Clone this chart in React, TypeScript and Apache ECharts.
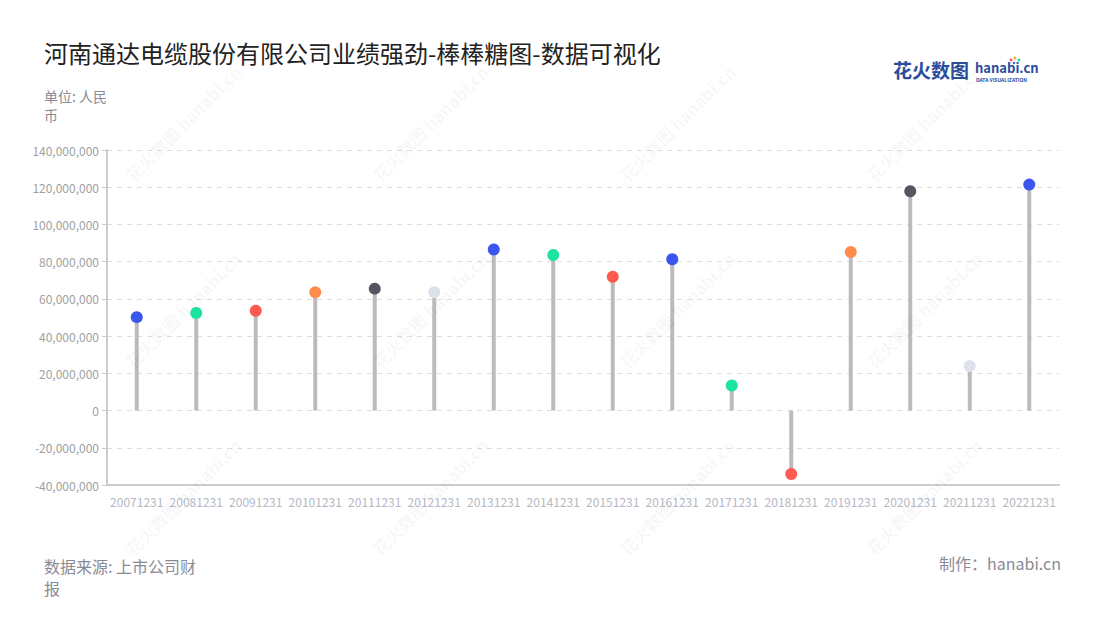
import React, { useEffect, useRef } from "react";
import * as echarts from "echarts";

const categories = [
  "20071231", "20081231", "20091231", "20101231", "20111231", "20121231",
  "20131231", "20141231", "20151231", "20161231", "20171231", "20181231",
  "20191231", "20201231", "20211231", "20221231",
];
const values = [
  50200000, 52400000, 53600000, 63500000, 65500000, 63500000,
  86500000, 83600000, 71900000, 81300000, 13500000, -34100000,
  85200000, 117800000, 23900000, 121400000,
];
const dotColors = [
  "#3a56ee", "#1ee3a0", "#ff5a4f", "#ff8c4c", "#55555f", "#dde1ea",
  "#3a56ee", "#1ee3a0", "#ff5a4f", "#3a56ee", "#1ee3a0", "#ff5a4f",
  "#ff8c4c", "#55555f", "#dde1ea", "#3a56ee",
];
const title = "河南通达电缆股份有限公司业绩强劲-棒棒糖图-数据可视化";
const unitText = "单位: 人民\n币";
const sourceText = "数据来源: 上市公司财\n报";
const makerText = "制作：hanabi.cn";

const FONT = "'Noto Sans CJK SC', 'Noto Sans', sans-serif";

export default function App() {
  const ref = useRef<HTMLDivElement>(null);
  useEffect(() => {
    if (!ref.current) return;
    const chart = echarts.init(ref.current, null, { renderer: "svg" });

    const wmX = [183, 430, 677, 924];
    const wmY = [123, 310, 497];
    const watermarks: any[] = [];
    wmX.forEach((x) =>
      wmY.forEach((y) => {
        watermarks.push({
          type: "text",
          x,
          y,
          rotation: Math.PI / 4,
          silent: true,
          z: 100,
          style: {
            text: "花火数图 hanabi.cn",
            font: `bold 17px ${FONT}`,
            fill: "rgba(0,0,0,0.045)",
            align: "center",
            verticalAlign: "middle",
          },
        });
      })
    );

    chart.setOption({
      animation: false,
      textStyle: { fontFamily: FONT },
      grid: { left: 107, right: 41, top: 150, bottom: 135 },
      xAxis: {
        type: "category",
        data: categories,
        axisLine: { onZero: false, lineStyle: { color: "#cccccc", width: 2 } },
        axisTick: { alignWithLabel: true, lineStyle: { color: "#cccccc" } },
        axisLabel: { color: "#b4b8c4", fontSize: 12, interval: 0, margin: 10 },
      },
      yAxis: {
        type: "value",
        min: -40000000,
        max: 140000000,
        interval: 20000000,
        axisLine: { show: true, lineStyle: { color: "#cccccc", width: 2 } },
        axisTick: { show: true, length: 5, lineStyle: { color: "#cccccc" } },
        axisLabel: {
          color: "#a0a0a0",
          fontSize: 12,
          margin: 8,
          formatter: (v: number) => v.toLocaleString("en-US"),
        },
        splitLine: { lineStyle: { color: "#dddddd", type: [5, 5] } },
      },
      series: [
        {
          type: "bar",
          data: values,
          barWidth: 4,
          itemStyle: { color: "#bbbbbb" },
          silent: true,
        },
        {
          type: "scatter",
          data: values.map((v, i) => ({ value: v, itemStyle: { color: dotColors[i], opacity: 1 } })),
          symbolSize: 12,
          itemStyle: { opacity: 1 },
          z: 5,
        },
      ],
      graphic: [
        {
          type: "text",
          left: 44,
          top: 40,
          style: { text: title, font: `24px ${FONT}`, fill: "#222222" },
        },
        {
          type: "text",
          left: 44,
          top: 86,
          style: { text: unitText, font: `14px ${FONT}`, fill: "#8a8a94", lineHeight: 19 },
        },
        {
          type: "text",
          left: 44,
          top: 555,
          style: { text: sourceText, font: `16px ${FONT}`, fill: "#8a8a94", lineHeight: 22 },
        },
        {
          type: "text",
          right: 39,
          top: 555,
          style: { text: makerText, font: `16px ${FONT}`, fill: "#8a8a94" },
        },
        {
          type: "text",
          left: 893,
          top: 60,
          style: { text: "花火数图", font: `bold 19px ${FONT}`, fill: "#2c4d9c" },
        },
        {
          type: "text",
          left: 975,
          top: 61,
          style: { text: "hanabi.cn", font: `bold 13px ${FONT}`, fill: "#2c4d9c" },
        },
        {
          type: "text",
          left: 976,
          top: 77,
          style: { text: "DATA VISUALIZATION", font: `bold 5px ${FONT}`, fill: "#2c4d9c" },
        },
        { type: "circle", shape: { cx: 1011, cy: 60, r: 1.5 }, style: { fill: "#ff5a4f" } },
        { type: "circle", shape: { cx: 1015, cy: 58, r: 1.5 }, style: { fill: "#ffb020" } },
        { type: "circle", shape: { cx: 1019, cy: 60, r: 1.5 }, style: { fill: "#1ee3a0" } },
        { type: "circle", shape: { cx: 1014, cy: 63, r: 1.2 }, style: { fill: "#3a56ee" } },
        ...watermarks,
      ],
    });
    return () => chart.dispose();
  }, []);
  return (
    <div
      ref={ref}
      style={{ position: "fixed", left: 0, top: 0, width: 1100, height: 620, background: "#fff" }}
    />
  );
}
